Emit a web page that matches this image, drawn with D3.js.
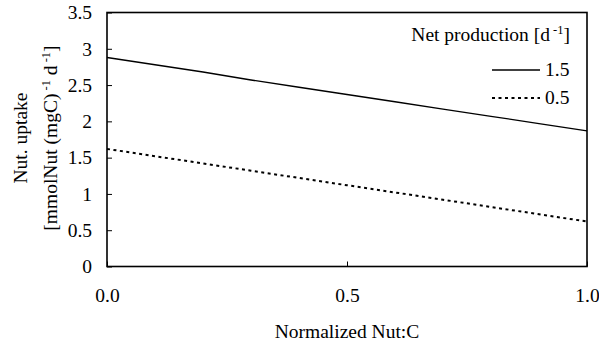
<!DOCTYPE html>
<html>
<head>
<meta charset="utf-8">
<script src="https://cdn.jsdelivr.net/npm/d3@7"></script>
<style>
  html, body { margin: 0; padding: 0; background: #fff; }
</style>
</head>
<body>
<svg id="chart" width="599" height="347"></svg>
<script>
// Normalized Nut:C ratio on the x axis
const nutC = [0.0, 0.1, 0.2, 0.3, 0.4, 0.5, 0.6, 0.7, 0.8, 0.9, 1.0];
// Nutrient uptake for net production 1.5 d^-1
const uptakeHigh = [2.88, 2.78, 2.68, 2.57, 2.47, 2.37, 2.27, 2.17, 2.07, 1.97, 1.87];
// Nutrient uptake for net production 0.5 d^-1
const uptakeLow = [1.62, 1.52, 1.42, 1.32, 1.22, 1.12, 1.02, 0.92, 0.82, 0.72, 0.62];
const seriesNames = ["1.5", "0.5"];
const xTicks = [0.0, 0.5, 1.0];
const yTicks = [0, 0.5, 1, 1.5, 2, 2.5, 3, 3.5];

const serif = "Liberation Serif, DejaVu Serif, serif";
const fs = 19.5;
const supFs = 12.5;

const svg = d3.select("#chart");
const plotL = 107, plotR = 587, plotT = 12.5, plotB = 266.5;

const x = d3.scaleLinear().domain([0, 1]).range([plotL, plotR]);
const y = d3.scaleLinear().domain([0, 3.5]).range([plotB, plotT]);

function styleText(sel, size) {
  return sel.attr("font-family", serif).attr("font-size", size).attr("fill", "#000");
}

// y axis: ticks point into the plot
const yAxis = d3.axisLeft(y).tickValues(yTicks).tickSize(-5).tickPadding(15)
  .tickFormat(d => d3.format("")(d));
const gy = svg.append("g").attr("transform", `translate(${plotL},0)`).call(yAxis);
gy.attr("font-family", serif).attr("font-size", fs);
gy.select(".domain").remove();
gy.selectAll(".tick line").attr("stroke", "#000").attr("stroke-width", 1);
styleText(gy.selectAll(".tick text"), fs);

// x axis: labels below with inward ticks
const xAxis = d3.axisBottom(x).tickValues(xTicks).tickSize(-5).tickPadding(22)
  .tickFormat(d3.format(".1f"));
const gx = svg.append("g").attr("transform", `translate(0,${plotB})`).call(xAxis);
gx.attr("font-family", serif).attr("font-size", fs);
gx.select(".domain").remove();
gx.selectAll(".tick line").attr("stroke", "#000").attr("stroke-width", 1);
styleText(gx.selectAll(".tick text"), fs);

// plot frame
svg.append("rect")
  .attr("x", plotL).attr("y", plotT)
  .attr("width", plotR - plotL).attr("height", plotB - plotT)
  .attr("fill", "none").attr("stroke", "#000").attr("stroke-width", 1.6);

const line = d3.line().x((d, i) => x(nutC[i])).y(d => y(d));

svg.append("path").datum(uptakeHigh)
  .attr("d", line).attr("fill", "none")
  .attr("stroke", "#000").attr("stroke-width", 1.3);

svg.append("path").datum(uptakeLow)
  .attr("d", line).attr("fill", "none")
  .attr("stroke", "#000").attr("stroke-width", 2)
  .attr("stroke-dasharray", "3,3.5");

// x title
styleText(svg.append("text"), fs)
  .attr("x", (plotL + plotR) / 2).attr("y", 338)
  .attr("text-anchor", "middle")
  .text("Normalized Nut:C");

// y title, two rotated lines
const yt = svg.append("g").attr("transform", "translate(0,138) rotate(-90)");
styleText(yt.append("text"), fs).attr("x", 0).attr("y", 27)
  .attr("text-anchor", "middle")
  .text("Nut. uptake");
const yt2 = styleText(yt.append("text"), fs).attr("x", 0).attr("y", 57)
  .attr("text-anchor", "middle");
yt2.append("tspan").text("[mmolNut (mgC)");
yt2.append("tspan").attr("dy", -7).attr("font-size", supFs).text(" -1");
yt2.append("tspan").attr("dy", 7).text(" d");
yt2.append("tspan").attr("dy", -7).attr("font-size", supFs).text(" -1");
yt2.append("tspan").attr("dy", 7).text("]");

// legend
const lg = svg.append("g");
const lt = styleText(lg.append("text"), fs).attr("x", 570).attr("y", 41)
  .attr("text-anchor", "end");
lt.append("tspan").text("Net production [d");
lt.append("tspan").attr("dy", -7).attr("font-size", supFs).text(" -1");
lt.append("tspan").attr("dy", 7).text("]");

const legendRows = [
  { name: seriesNames[0], y: 70, dash: null, w: 1.3 },
  { name: seriesNames[1], y: 98, dash: "3,3.5", w: 2 }
];
legendRows.forEach(r => {
  lg.append("line").attr("x1", 492).attr("x2", 540)
    .attr("y1", r.y).attr("y2", r.y)
    .attr("stroke", "#000").attr("stroke-width", r.w)
    .attr("stroke-dasharray", r.dash);
  styleText(lg.append("text"), fs).attr("x", 545).attr("y", r.y + 6)
    .text(r.name);
});
</script>
</body>
</html>
